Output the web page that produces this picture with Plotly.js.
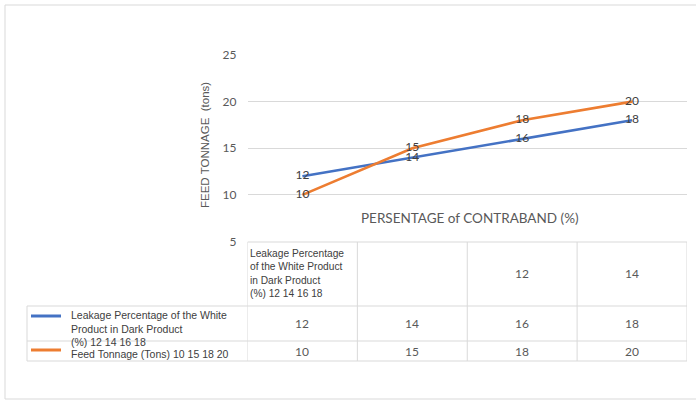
<!DOCTYPE html>
<html>
<head>
<meta charset="utf-8">
<script src="https://cdn.plot.ly/plotly-3.0.1.min.js"></script>
<style>
  html, body { margin: 0; padding: 0; background: #fff; }
  #chart { width: 696px; height: 403px; }
</style>
</head>
<body>
<div id="chart"></div>
<script>
// ---- data ----
const categories = ['12', '14', '16', '18'];
const leakage = [12, 14, 16, 18];
const feed = [10, 15, 18, 20];
const yTicks = [5, 10, 15, 20, 25];
const headerLabels = ['Leakage Percentage<br>of the White Product<br>in Dark Product<br>(%) 12 14 16 18', '', '12', '14'];
const seriesLabels = ['Leakage Percentage of the White<br>Product in Dark Product<br>(%) 12 14 16 18',
                      'Feed Tonnage (Tons) 10 15 18 20'];
const xTitle = 'PERSENTAGE of CONTRABAND (%)';
const yTitle = 'FEED TONNAGE\u00a0\u00a0(tons)';

// ---- helpers ----
const W = 696, H = 403;
const px = x => x / W;
const py = y => 1 - y / H;

const blue = '#4472C4', orange = '#ED7D31';
const grid = '#D9D9D9';
const numFont = {family: 'Lato, "Liberation Sans", sans-serif', size: 12, color: '#595959'};
const txtFont = {family: '"Liberation Sans", Arial, sans-serif', size: 10.2, color: '#404040'};

// table geometry (pixels)
const rowTop = [242, 306, 341, 361];
const tableLeft = 27;

const traces = [
  {x: categories, y: leakage, type: 'scatter', mode: 'lines+text', name: 'Leakage',
   line: {color: blue, width: 2.6}, text: leakage.map(String), textposition: 'middle center',
   textfont: {family: numFont.family, size: 12, color: '#404040'}, cliponaxis: false, hoverinfo: 'skip'},
  {x: categories, y: feed, type: 'scatter', mode: 'lines+text', name: 'Feed',
   line: {color: orange, width: 2.6}, text: feed.map(String), textposition: 'middle center',
   textfont: {family: numFont.family, size: 12, color: '#404040'}, cliponaxis: false, hoverinfo: 'skip'}
];

const shapes = [];
const annotations = [];

// outer frame
shapes.push({type: 'rect', xref: 'paper', yref: 'paper', x0: px(5), x1: px(705), y0: py(399), y1: py(5),
             line: {color: grid, width: 1}});

// table horizontal lines
shapes.push({type: 'line', xref: 'x', yref: 'paper', x0: -0.5, x1: 3.5, y0: py(rowTop[0]), y1: py(rowTop[0]), line: {color: grid, width: 1}});
for (let r = 1; r < rowTop.length; r++) {
  shapes.push({type: 'line', xref: 'paper', yref: 'paper', x0: px(tableLeft), x1: px(687), y0: py(rowTop[r]), y1: py(rowTop[r]), line: {color: grid, width: 1}});
}
// table vertical lines
for (let c = 0; c <= categories.length; c++) {
  shapes.push({type: 'line', xref: 'x', yref: 'paper', x0: c - 0.5, x1: c - 0.5, y0: py(rowTop[0]), y1: py(rowTop[3]), line: {color: grid, width: 1}});
}
shapes.push({type: 'line', xref: 'paper', yref: 'paper', x0: px(tableLeft), x1: px(tableLeft), y0: py(rowTop[1]), y1: py(rowTop[3]), line: {color: grid, width: 1}});

// legend keys
[blue, orange].forEach((col, i) => {
  const yy = i === 0 ? 316 : 350;
  shapes.push({type: 'line', xref: 'paper', yref: 'paper', x0: px(31), x1: px(61), y0: py(yy), y1: py(yy), line: {color: col, width: 3}});
});

// header row
headerLabels.forEach((lab, i) => {
  if (!lab) return;
  if (i === 0) {
    annotations.push({x: -0.5, xref: 'x', xanchor: 'left', y: py(246), yref: 'paper', yanchor: 'top',
      text: lab, showarrow: false, align: 'left', font: txtFont});
  } else {
    annotations.push({x: i, xref: 'x', xanchor: 'center', y: py(273), yref: 'paper', yanchor: 'middle',
      text: lab, showarrow: false, font: numFont});
  }
});
// value rows
categories.forEach((c, i) => {
  annotations.push({x: i, xref: 'x', xanchor: 'center', y: py(323), yref: 'paper', yanchor: 'middle',
    text: String(leakage[i]), showarrow: false, font: numFont});
  annotations.push({x: i, xref: 'x', xanchor: 'center', y: py(351), yref: 'paper', yanchor: 'middle',
    text: String(feed[i]), showarrow: false, font: numFont});
});
// legend labels
annotations.push({x: px(69), xref: 'paper', xanchor: 'left', y: py(307), yref: 'paper', yanchor: 'top',
  text: seriesLabels[0], showarrow: false, align: 'left', font: {family: txtFont.family, size: 10.5, color: '#404040'}});
annotations.push({x: px(69), xref: 'paper', xanchor: 'left', y: py(354), yref: 'paper', yanchor: 'middle',
  text: seriesLabels[1], showarrow: false, align: 'left', font: {family: txtFont.family, size: 10.5, color: '#404040'}});

// axis titles
annotations.push({x: px(470), xref: 'paper', xanchor: 'center', y: py(218), yref: 'paper', yanchor: 'middle',
  text: xTitle, showarrow: false,
  font: {family: 'Lato, "Liberation Sans", sans-serif', size: 13.5, color: '#595959'}});
annotations.push({x: px(205), xref: 'paper', xanchor: 'center', y: py(145), yref: 'paper', yanchor: 'middle',
  text: yTitle, textangle: -90, showarrow: false,
  font: {family: '"Liberation Sans", Arial, sans-serif', size: 11.5, color: '#595959'}});

const layout = {
  width: W, height: H,
  margin: {l: 0, r: 0, t: 0, b: 0},
  paper_bgcolor: '#ffffff', plot_bgcolor: '#ffffff',
  showlegend: false,
  xaxis: {type: 'category', categoryarray: categories, range: [-0.5, 3.5], domain: [px(247.5), px(687)],
          showticklabels: false, showgrid: false, zeroline: false, showline: false, ticks: ''},
  yaxis: {range: [5, 25], tickvals: yTicks, domain: [py(241.5), py(55)], showgrid: true, gridcolor: grid, gridwidth: 1,
          zeroline: false, showline: false, ticks: '', ticklabelstandoff: 10, tickfont: numFont},
  shapes: shapes,
  annotations: annotations
};

Plotly.newPlot('chart', traces, layout, {staticPlot: true, displayModeBar: false});
</script>
</body>
</html>
